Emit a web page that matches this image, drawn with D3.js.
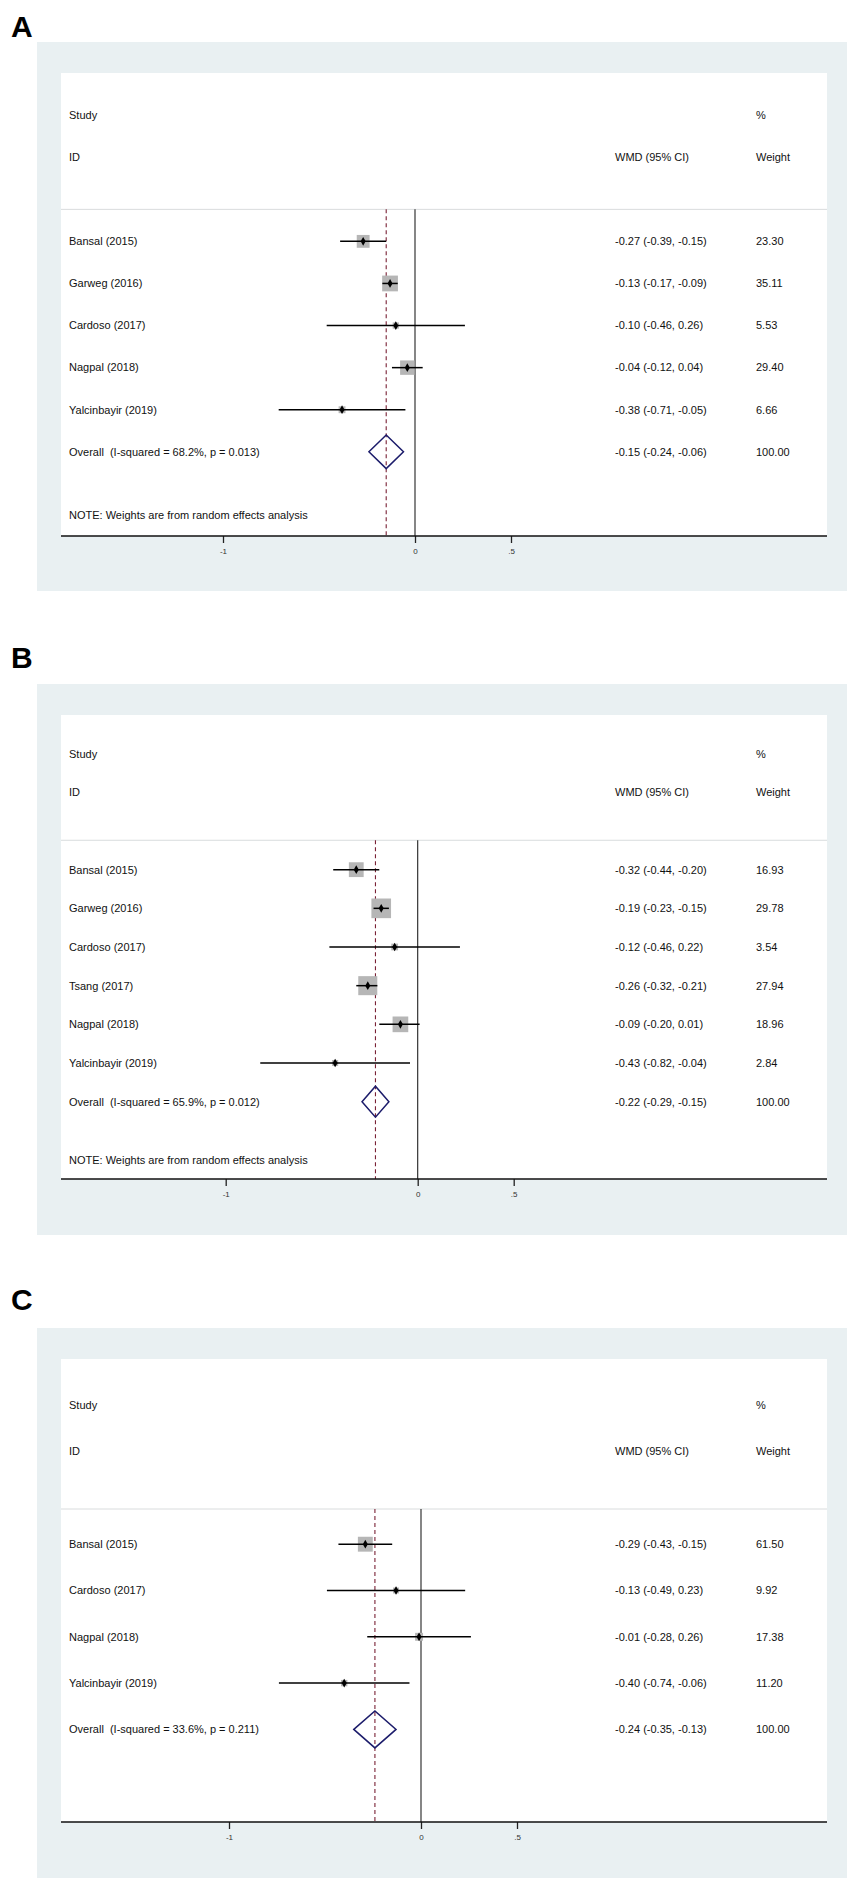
<!DOCTYPE html>
<html>
<head>
<meta charset="utf-8">
<script src="https://cdn.jsdelivr.net/npm/d3@7"></script>
<style>
  body { margin: 0; background: #fff; }
  text { font-family: "Liberation Sans", Arial, sans-serif; white-space: pre; }
</style>
</head>
<body>
<script>
// panel A data
var studiesA = ["Bansal (2015)", "Garweg (2016)", "Cardoso (2017)", "Nagpal (2018)", "Yalcinbayir (2019)"];
var wmdA = [-0.27, -0.13, -0.10, -0.04, -0.38];
var lowA = [-0.39, -0.17, -0.46, -0.12, -0.71];
var highA = [-0.15, -0.09, 0.26, 0.04, -0.05];
var weightA = [23.30, 35.11, 5.53, 29.40, 6.66];
var overallA = [-0.15, -0.24, -0.06];
var hetA = "Overall  (I-squared = 68.2%, p = 0.013)";

// panel B data
var studiesB = ["Bansal (2015)", "Garweg (2016)", "Cardoso (2017)", "Tsang (2017)", "Nagpal (2018)", "Yalcinbayir (2019)"];
var wmdB = [-0.32, -0.19, -0.12, -0.26, -0.09, -0.43];
var lowB = [-0.44, -0.23, -0.46, -0.32, -0.20, -0.82];
var highB = [-0.20, -0.15, 0.22, -0.21, 0.01, -0.04];
var weightB = [16.93, 29.78, 3.54, 27.94, 18.96, 2.84];
var overallB = [-0.22, -0.29, -0.15];
var hetB = "Overall  (I-squared = 65.9%, p = 0.012)";

// panel C data
var studiesC = ["Bansal (2015)", "Cardoso (2017)", "Nagpal (2018)", "Yalcinbayir (2019)"];
var wmdC = [-0.29, -0.13, -0.01, -0.40];
var lowC = [-0.43, -0.49, -0.28, -0.74];
var highC = [-0.15, 0.23, 0.26, -0.06];
var weightC = [61.50, 9.92, 17.38, 11.20];
var overallC = [-0.24, -0.35, -0.13];
var hetC = "Overall  (I-squared = 33.6%, p = 0.211)";

var tickValues = [-1, 0, 0.5];
var tickLabels = ["-1", "0", ".5"];
var noteText = "NOTE: Weights are from random effects analysis";

var W = 854, H = 1883;
var svg = d3.select("body").append("svg")
  .attr("width", W)
  .attr("height", H);

// layout of each panel (pixels), kept apart from the data
var panels = [
  {label: "A", studies: studiesA, wmd: wmdA, low: lowA, high: highA, weight: weightA, overall: overallA, het: hetA, note: true,
   labelY: 37, grayTop: 42, whiteTop: 73, axisY: 536, grayBottom: 591, zeroX: 415, box: 2.66},
  {label: "B", studies: studiesB, wmd: wmdB, low: lowB, high: highB, weight: weightB, overall: overallB, het: hetB, note: true,
   labelY: 668, grayTop: 684, whiteTop: 715, axisY: 1179, grayBottom: 1235, zeroX: 417.7, box: 3.6},
  {label: "C", studies: studiesC, wmd: wmdC, low: lowC, high: highC, weight: weightC, overall: overallC, het: hetC, note: false,
   labelY: 1310, grayTop: 1328, whiteTop: 1359, axisY: 1822, grayBottom: 1878, zeroX: 421, box: 1.9}
];

var grayLeft = 37, grayRight = 847, whiteLeft = 61, whiteRight = 827;
var textX = 69, wmdX = 615, wtX = 756;
var fs = 11;

function f2(v) { return v.toFixed(2); }

panels.forEach(function (p) {
  var n = p.studies.length;
  var g = svg.append("g");

  // x scale: 192px per unit
  var x = d3.scaleLinear().domain([0, 1]).range([p.zeroX, p.zeroX + 192]);
  // y scale: row index -> pixel
  var y = d3.scaleLinear().domain([-1, n + 5]).range([p.whiteTop, p.axisY]);
  var unit = y(1) - y(0);

  g.append("text")
    .attr("x", 11).attr("y", p.labelY)
    .style("font-size", "30px").style("font-weight", "bold")
    .text(p.label);

  g.append("rect")
    .attr("x", grayLeft).attr("y", p.grayTop)
    .attr("width", grayRight - grayLeft).attr("height", p.grayBottom - p.grayTop)
    .attr("fill", "#e9f0f2");
  g.append("rect")
    .attr("x", whiteLeft).attr("y", p.whiteTop)
    .attr("width", whiteRight - whiteLeft).attr("height", p.axisY - p.whiteTop)
    .attr("fill", "#fff");

  // header
  var hdr = [
    {x: textX, r: 0, t: "Study"},
    {x: textX, r: 1, t: "ID"},
    {x: wtX, r: 0, t: "%"},
    {x: wmdX, r: 1, t: "WMD (95% CI)"},
    {x: wtX, r: 1, t: "Weight"}
  ];
  g.selectAll(".hdr").data(hdr).enter().append("text")
    .attr("x", function (d) { return d.x; })
    .attr("y", function (d) { return y(d.r); })
    .attr("dy", "0.35em")
    .style("font-size", fs + "px").attr("fill", "#111")
    .text(function (d) { return d.t; });

  var sepY = y(2.24);
  g.append("line")
    .attr("x1", whiteLeft).attr("x2", whiteRight)
    .attr("y1", sepY).attr("y2", sepY)
    .attr("stroke", "#d9dcdd").attr("stroke-width", 1);

  // null line and overall dashed line
  g.append("line")
    .attr("x1", x(0)).attr("x2", x(0))
    .attr("y1", sepY).attr("y2", p.axisY)
    .attr("stroke", "#222").attr("stroke-width", 1.1);
  g.append("line")
    .attr("x1", x(p.overall[0])).attr("x2", x(p.overall[0]))
    .attr("y1", sepY).attr("y2", p.axisY)
    .attr("stroke", "#7a2236").attr("stroke-width", 1.1)
    .attr("stroke-dasharray", "4,3");

  var rows = p.studies.map(function (s, i) {
    return {name: s, est: p.wmd[i], lo: p.low[i], hi: p.high[i], w: p.weight[i], r: 3 + i};
  });

  // weight boxes
  g.selectAll(".box").data(rows).enter().append("rect")
    .attr("x", function (d) { return x(d.est) - p.box * Math.sqrt(d.w) / 2; })
    .attr("y", function (d) { return y(d.r) - p.box * Math.sqrt(d.w) / 2; })
    .attr("width", function (d) { return p.box * Math.sqrt(d.w); })
    .attr("height", function (d) { return p.box * Math.sqrt(d.w); })
    .attr("fill", "#b6b6b6");

  // CI lines
  g.selectAll(".ci").data(rows).enter().append("line")
    .attr("x1", function (d) { return x(d.lo); })
    .attr("x2", function (d) { return x(d.hi); })
    .attr("y1", function (d) { return y(d.r); })
    .attr("y2", function (d) { return y(d.r); })
    .attr("stroke", "#000").attr("stroke-width", 1.5);

  g.selectAll(".pt").data(rows).enter().append("path")
    .attr("transform", function (d) { return "translate(" + x(d.est) + "," + y(d.r) + ")"; })
    .attr("d", d3.symbol(d3.symbolDiamond, 22))
    .attr("fill", "#000");

  // row texts
  g.selectAll(".nm").data(rows).enter().append("text")
    .attr("x", textX).attr("y", function (d) { return y(d.r); })
    .attr("dy", "0.35em").style("font-size", fs + "px").attr("fill", "#111")
    .text(function (d) { return d.name; });
  g.selectAll(".ci-t").data(rows).enter().append("text")
    .attr("x", wmdX).attr("y", function (d) { return y(d.r); })
    .attr("dy", "0.35em").style("font-size", fs + "px").attr("fill", "#111")
    .text(function (d) { return f2(d.est) + " (" + f2(d.lo) + ", " + f2(d.hi) + ")"; });
  g.selectAll(".wt").data(rows).enter().append("text")
    .attr("x", wtX).attr("y", function (d) { return y(d.r); })
    .attr("dy", "0.35em").style("font-size", fs + "px").attr("fill", "#111")
    .text(function (d) { return f2(d.w); });

  // overall diamond
  var oy = y(3 + n), hh = 0.4 * unit;
  g.append("path")
    .attr("d", "M" + x(p.overall[1]) + "," + oy +
               "L" + x(p.overall[0]) + "," + (oy - hh) +
               "L" + x(p.overall[2]) + "," + oy +
               "L" + x(p.overall[0]) + "," + (oy + hh) + "Z")
    .attr("fill", "none").attr("stroke", "#1c1c6b").attr("stroke-width", 1.5);
  g.append("text").attr("x", textX).attr("y", oy).attr("dy", "0.35em")
    .style("font-size", fs + "px").attr("fill", "#111").text(p.het);
  g.append("text").attr("x", wmdX).attr("y", oy).attr("dy", "0.35em")
    .style("font-size", fs + "px").attr("fill", "#111")
    .text(f2(p.overall[0]) + " (" + f2(p.overall[1]) + ", " + f2(p.overall[2]) + ")");
  g.append("text").attr("x", wtX).attr("y", oy).attr("dy", "0.35em")
    .style("font-size", fs + "px").attr("fill", "#111").text("100.00");

  if (p.note) {
    g.append("text").attr("x", textX).attr("y", y(n + 4.5)).attr("dy", "0.35em")
      .style("font-size", fs + "px").attr("fill", "#111").text(noteText);
  }

  // x axis
  var ax = g.append("g")
    .attr("transform", "translate(0," + p.axisY + ")")
    .call(d3.axisBottom(x).tickValues(tickValues)
      .tickFormat(function (d, i) { return tickLabels[i]; })
      .tickSize(7).tickPadding(5));
  ax.select(".domain").remove();
  ax.selectAll(".tick line").attr("stroke", "#222").attr("stroke-width", 1.3);
  ax.selectAll(".tick text")
    .style("font-size", "8px").attr("fill", "#333")
    .style("font-family", "'Liberation Sans', Arial, sans-serif");
  g.append("line")
    .attr("x1", whiteLeft).attr("x2", whiteRight)
    .attr("y1", p.axisY).attr("y2", p.axisY)
    .attr("stroke", "#111").attr("stroke-width", 1.3);
});
</script>
</body>
</html>
